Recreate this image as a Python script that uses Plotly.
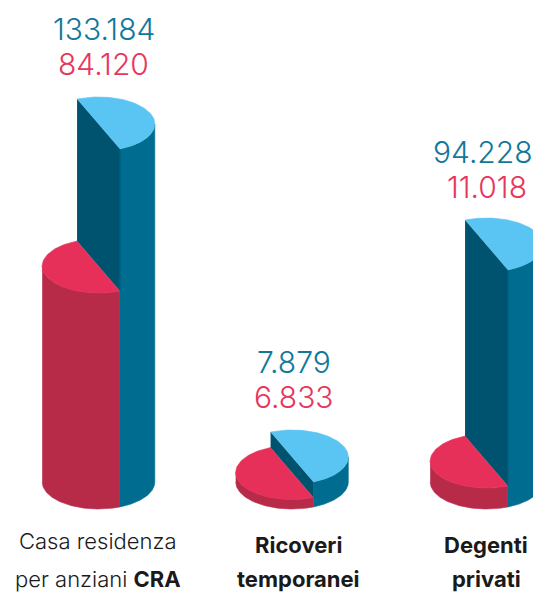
import numpy as np
import plotly.graph_objects as go

# Data
categories = ["Casa residenza<br>per anziani <b>CRA</b>", "<b>Ricoveri</b><br><b>temporanei</b>", "<b>Degenti</b><br><b>privati</b>"]
blue_labels = ["133.184", "7.879", "94.228"]
red_labels = ["84.120", "6.833", "11.018"]
# Drawn cylinder heights
blue_heights = [358, 25, 237]
red_heights = [216, 9.5, 21]

# Geometry and style
W, H = 533, 592
BASE = H - 482
RX, RY = 56.3, 27
CENTERS = [98.5, 292, 486.5]
SPLIT = np.deg2rad(-67.6)
TOP_BLUE, SIDE_BLUE, FACE_BLUE = "#5AC5F3", "#006C90", "#00536F"
TOP_RED, SIDE_RED = "#E6305A", "#B82B48"
TXT_BLUE, TXT_RED = "#0F789B", "#E8355C"
FONT = "Inter"
LABEL_X = [(104, 103.5), (294, 294), (482.5, 486.5)]
LABEL_Y = [(29, 64), (362, 397), (152, 187)]
CAT_X = [97.5, 298.5, 486]
CAT_Y = [(541, 579), (545, 579), (545, 579)]
CAT_SIZE = [22, 22, 22]

fig = go.Figure()


def arc(cx, y0, start, end, n=80):
    t = np.linspace(start, end, n)
    return cx + RX * np.cos(t), y0 + RY * np.sin(t)


def poly(x, y, color):
    fig.add_trace(go.Scatter(x=list(x), y=list(y), mode="lines", fill="toself", fillcolor=color,
                             line=dict(color=color, width=0.6), hoverinfo="skip", showlegend=False))


for cx, hb, hr in zip(CENTERS, blue_heights, red_heights):
    yb, yr = BASE + hb, BASE + hr
    # red side wall
    xa, ya = arc(cx, BASE, np.pi, 2 * np.pi + SPLIT)
    xt, yt = arc(cx, yr, np.pi, 2 * np.pi + SPLIT)
    poly(np.r_[xa, xt[::-1]], np.r_[ya, yt[::-1]], SIDE_RED)
    # blue side wall
    xa, ya = arc(cx, BASE, SPLIT, 0)
    xt, yt = arc(cx, yb, SPLIT, 0)
    poly(np.r_[xa, xt[::-1]], np.r_[ya, yt[::-1]], SIDE_BLUE)
    # blue cut face
    ax, bx = cx + RX * np.cos(SPLIT + np.pi), cx + RX * np.cos(SPLIT)
    ady, bdy = RY * np.sin(SPLIT + np.pi), RY * np.sin(SPLIT)
    poly([ax, bx, bx, ax], [yr + ady, yr + bdy, yb + bdy, yb + ady], FACE_BLUE)
    # top faces
    poly(*arc(cx, yr, SPLIT + np.pi, SPLIT + 2 * np.pi), TOP_RED)
    poly(*arc(cx, yb, SPLIT, SPLIT + np.pi), TOP_BLUE)


def note(text, x, y, size, color, weight=300):
    fig.add_annotation(x=x, y=H - y, text=text, showarrow=False, xanchor="center", yanchor="middle",
                       align="center", font=dict(family=FONT, size=size, color=color, weight=weight))


for i in range(3):
    note(blue_labels[i], LABEL_X[i][0], LABEL_Y[i][0], 30, TXT_BLUE)
    note(red_labels[i], LABEL_X[i][1], LABEL_Y[i][1], 30, TXT_RED)
    top, bottom = categories[i].split("<br>")
    note(top, CAT_X[i], CAT_Y[i][0], CAT_SIZE[i], "#1a1a1a", 300)
    note(bottom, CAT_X[i], CAT_Y[i][1], CAT_SIZE[i], "#1a1a1a", 300)

fig.update_layout(width=W, height=H, margin=dict(l=0, r=0, t=0, b=0), paper_bgcolor="white", plot_bgcolor="white",
                  xaxis=dict(range=[0, W], visible=False, fixedrange=True),
                  yaxis=dict(range=[0, H], visible=False, fixedrange=True), showlegend=False)
fig.write_html("out.html", config={"displayModeBar": False},
               post_script="document.body.style.margin='0';document.documentElement.style.overflow='hidden';")
